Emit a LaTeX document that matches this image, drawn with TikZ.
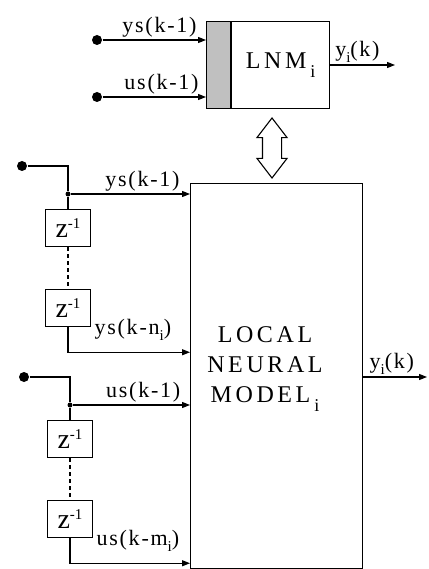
\documentclass[tikz,border=0pt]{standalone}
\usepackage{fontspec}
\setmainfont{Liberation Serif}
\usepackage{tikz}
\usetikzlibrary{calc,positioning,shapes.arrows,arrows.meta}
\definecolor{bufferGray}{RGB}{192,192,192}
\newcommand{\labelFont}{\fontsize{22}{24}\selectfont\addfontfeature{LetterSpace=8}}
\newcommand{\modelFont}{\fontsize{24}{30}\selectfont\addfontfeature{LetterSpace=15}}
\newcommand{\delayFont}{\fontsize{28}{28}\selectfont}
\newcommand{\subI}{\raisebox{-6pt}{\fontsize{15}{15}\selectfont i}}
\newcommand{\bigSubI}{\,\raisebox{-9pt}{\fontsize{18}{18}\selectfont i}}
\newcommand{\invZ}{z\raisebox{9pt}{\fontsize{15}{15}\selectfont -1}}
\newcommand{\delayWidth}{45}
\newcommand{\delayHeight}{37}
\newcommand{\delayGap}{42}
\newcommand{\groupOffset}{211}

\begin{document}
\begin{tikzpicture}[x=1pt, y=-1pt, line width=1.1pt,
		delay/.style={draw, rectangle, minimum width=\delayWidth, minimum height=\delayHeight, inner sep=0pt, font=\delayFont},
		pin/.style={circle, fill, inner sep=0pt, minimum size=10pt},
		joint/.style={circle, fill, inner sep=0pt, minimum size=5pt},
		feed/.style={-{Triangle[length=8pt,width=6pt]}},
		txt/.style={inner sep=1pt, font=\labelFont}]
	\useasboundingbox (0,0) rectangle (428,569);
	
	% local linear model with its input buffer
	\node[draw, fill=bufferGray, minimum width=24, minimum height=87, inner sep=0pt, anchor=north west] (lnmBuffer) at (206,21) {};
	\node[draw, minimum width=98, minimum height=87, inner sep=0pt, anchor=west, font=\modelFont] (lnm) at (lnmBuffer.east) {LNM\bigSubI};
	\node[pin] (lnmYs) at (97,40) {};
	\node[pin] (lnmUs) at (97,97) {};
	\coordinate (lnmOut) at (395,65);
	\draw[feed] (lnmYs) -- (lnmYs -| lnmBuffer.west) node[txt, pos=.55, above=1pt] {ys(k-1)};
	\draw[feed] (lnmUs) -- (lnmUs -| lnmBuffer.west) node[txt, pos=.57, above=1pt] {us(k-1)};
	\draw[feed] (lnm.east |- lnmOut) -- (lnmOut) node[txt, pos=.42, above=1pt] {y\subI(k)};
	
	% local neural model
	\node[draw, minimum width=172, minimum height=385, inner sep=0pt, anchor=north west] (model) at (190,183) {};
	\node[font=\modelFont, align=center] (modelText) at (265,369) {LOCAL\\NEURAL\\MODEL\bigSubI};
	\node[double arrow, draw, rotate=90, minimum height=60, inner sep=9pt, double arrow head extend=5.5pt, double arrow tip angle=75] (link) at (272,148) {};
	\coordinate (modelOut) at (427,377);
	\draw[feed] (model.east |- modelOut) -- (modelOut) node[txt, pos=.45, above=1pt] {y\subI(k)};
	
	% tapped delay lines
	\foreach \signal/\lag/\dx/\dy in {ys/n/0/0, us/m/2/\groupOffset}
	{
		\begin{scope}[shift={(\dx,\dy)}]
			\node[pin] (\signal Pin) at (22,166) {};
			\node[joint] (\signal Tap) at (68,194) {};
			\node[delay, below=12pt of \signal Tap] (\signal DelayA) {\invZ};
			\node[delay, below=\delayGap pt of \signal DelayA] (\signal DelayB) {\invZ};
			\coordinate (\signal Out) at ($(\signal DelayB.south)+(0,25)$);
			\draw (\signal Pin) -| (\signal Tap);
			\draw[feed] (\signal Tap) -- (\signal Tap -| model.west) node[txt, pos=.6, above=1pt] {\signal(k-1)};
			\draw (\signal Tap) -- (\signal DelayA);
			\draw[dash pattern=on 4pt off 3pt] (\signal DelayA) -- (\signal DelayB);
			\draw[feed] (\signal DelayB) |- (\signal Out -| model.west);
			\node[txt, anchor=west] (\signal Lag) at ($(\signal DelayB.south east)+(2,3)$) {\signal(k-\lag\subI)};
		\end{scope}
	}
\end{tikzpicture}
\end{document}
